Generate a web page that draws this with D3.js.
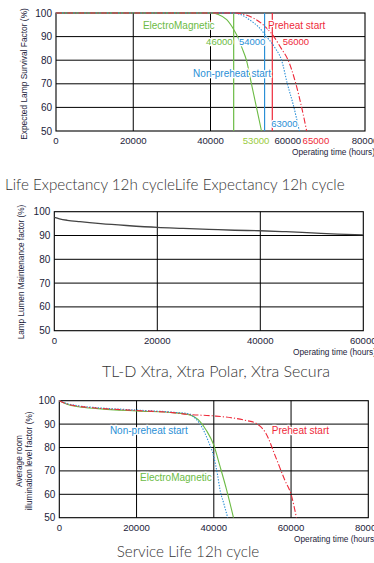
<!DOCTYPE html>
<html><head><meta charset="utf-8">
<script src="https://cdn.jsdelivr.net/npm/d3@7/dist/d3.min.js"></script>
<style>
html,body{margin:0;padding:0;background:#fff;overflow:hidden}
svg{display:block}
</style></head>
<body>
<svg id="c" width="374" height="563"></svg>
<script>
// ---------- DATA ----------
// Panel 1: Expected Lamp Survival Factor (%)
const survXTicks = [0, 20000, 40000, 60000, 80000];
const survYTicks = [50, 60, 70, 80, 90, 100];
const survGridX = [20000, 40000];
const survEM = [[0,100],[40000,100],[42000,99.4],[44200,97.2],[46300,92.2],[47000,90],[48200,85],[49300,80],[50600,70],[51900,60],[53200,50]];
const survNonPre = [[0,100],[45000,100],[47500,99.5],[50200,97],[52500,94],[54500,90],[56800,85],[58400,80],[59900,70],[61600,60],[63000,50]];
const survPre = [[0,100],[46000,100],[48500,99.5],[51500,97.5],[54000,94.5],[56400,90],[58300,85],[60100,80],[62100,70],[63600,60],[64900,50]];
const survMarkers = [46000, 54000, 56000];          // vertical marker lines
const survMarkerLabels = ["46000", "54000", "56000", "63000", "53000", "65000"];

// Panel 2: Lamp Lumen Maintenance factor (%)
const lumXTicks = [0, 20000, 40000, 60000];
const lumYTicks = [50, 60, 70, 80, 90, 100];
const lumGridX = [20000, 40000];
const lumCurve = [[0,97.6],[1000,97],[2500,96.4],[5000,95.8],[9000,95],[14000,94.2],[20000,93.4],[25000,93],[30000,92.6],[35000,92.2],[40000,92],[45000,91.6],[50000,91.1],[55000,90.6],[60000,90.3]];

// Panel 3: Average room illumination level factor (%)
const svcXTicks = [0, 20000, 40000, 60000, 80000];
const svcYTicks = [50, 60, 70, 80, 90, 100];
const svcGridX = [20000, 40000, 60000];
const svcEM = [[0,100],[2000,98.5],[5000,97.4],[10000,96.6],[20000,95.6],[30000,94.8],[33000,94.2],[35000,93],[36500,91],[38000,87.5],[40000,81],[41600,72],[43300,62],[45100,50]];
const svcNonPre = [[0,100],[2000,98.8],[5000,97.8],[10000,97],[20000,96],[30000,95],[33500,94.4],[35500,92],[37000,88.5],[38500,83],[40000,76],[41000,68],[41600,62],[42600,56],[43600,50]];
const svcPre = [[0,100],[2000,98.6],[5000,97.6],[10000,96.8],[20000,95.8],[30000,94.8],[33000,94.2],[40000,93.5],[45000,92.6],[48500,91.5],[51000,90.3],[53500,86],[56000,76],[58400,66],[60000,60],[61400,50]];

const titles = ["Life Expectancy 12h cycleLife Expectancy 12h cycle", "TL-D Xtra, Xtra Polar, Xtra Secura", "Service Life 12h cycle"];
const seriesNames = ["ElectroMagnetic", "Non-preheat start", "Preheat start"];
const xTitle = "Operating time (hours)";

// ---------- STYLE ----------
const GREEN = "#6cbb45", BLUE = "#2a8fd6", RED = "#ee2a3a", INK = "#1c1c3a";
const TICKFONT = "'Liberation Sans', Arial, sans-serif";
const TITLEFONT = "Lato, 'Open Sans', sans-serif";
const svg = d3.select("#c");

function panel(o) {
  const x = d3.scaleLinear().domain(o.xDomain).range([o.left, o.right]);
  const y = d3.scaleLinear().domain([50, 100]).range([o.bottom, o.top]);
  const g = svg.append("g");
  g.selectAll(".hg").data(o.yTicks.filter(d => d > 50 && d < 100)).join("line")
    .attr("x1", o.left).attr("x2", o.right).attr("y1", d => y(d)).attr("y2", d => y(d))
    .attr("stroke", "#000").attr("stroke-width", 1);
  g.selectAll(".vg").data(o.gridX).join("line")
    .attr("x1", d => x(d)).attr("x2", d => x(d)).attr("y1", o.top).attr("y2", o.bottom)
    .attr("stroke", "#000").attr("stroke-width", 1);
  g.append("rect").attr("x", o.left).attr("y", o.top)
    .attr("width", o.right - o.left).attr("height", o.bottom - o.top)
    .attr("fill", "none").attr("stroke", "#000").attr("stroke-width", 1.1);
  g.selectAll(".yt").data(o.yTicks).join("text")
    .attr("x", o.left - 4).attr("y", d => y(d)).attr("dy", "0.35em")
    .attr("text-anchor", "end").attr("font-family", TICKFONT).attr("font-size", 10)
    .attr("fill", INK).text(d => d);
  g.selectAll(".xt").data(o.xTicks).join("text")
    .attr("x", d => x(d)).attr("y", o.bottom + 13)
    .attr("text-anchor", "middle").attr("font-family", TICKFONT).attr("font-size", 9.6)
    .attr("fill", INK).text(d => d);
  g.append("text").attr("x", o.xTitleX).attr("y", o.bottom + 24)
    .attr("font-family", TICKFONT).attr("font-size", 8.3).attr("fill", INK).text(xTitle);
  const yt = g.append("text").attr("transform", `translate(${o.yTitleX},${o.yTitleY}) rotate(-90)`)
    .attr("text-anchor", "middle").attr("font-family", TICKFONT).attr("font-size", o.yTitleSize).attr("fill", INK);
  o.yTitle.forEach((t, i) => yt.append("tspan").attr("x", 0).attr("dy", i === 0 ? 0 : 9.5).text(t));
  return {x, y, g};
}

function curve(p, data, color, dash, w) {
  const line = d3.line().x(d => p.x(d[0])).y(d => p.y(d[1])).curve(d3.curveMonotoneX);
  p.g.append("path").datum(data).attr("d", line).attr("fill", "none")
    .attr("stroke", color).attr("stroke-width", w || 1.1)
    .attr("stroke-dasharray", dash || null);
}
function label(p, xv, yv, txt, color, anchor, size) {
  p.g.append("text").attr("x", p.x(xv)).attr("y", p.y(yv)).attr("dy", "0.35em")
    .attr("text-anchor", anchor || "start").attr("font-family", TICKFONT)
    .attr("font-size", size || 10).attr("fill", color)
    .attr("stroke", "#fff").attr("stroke-width", 2.5).attr("stroke-linejoin", "round")
    .attr("paint-order", "stroke").text(txt);
}

// ---------- PANEL 1 ----------
const p1 = panel({xDomain: [0, 80000], left: 56, right: 365, top: 13, bottom: 131,
  xTicks: survXTicks, yTicks: survYTicks, gridX: survGridX,
  xTitleX: 292, yTitleX: 27, yTitleY: 74, yTitleSize: 8.4, yTitle: ["Expected Lamp Survival Factor (%)"]});
const markerColors = [GREEN, BLUE, RED];
survMarkers.forEach((m, i) => {
  p1.g.append("line").attr("x1", p1.x(m)).attr("x2", p1.x(m)).attr("y1", p1.y(100)).attr("y2", p1.y(50))
    .attr("stroke", markerColors[i]).attr("stroke-width", 1.2);
});
curve(p1, survEM, GREEN, null, 1.1);
curve(p1, survNonPre, BLUE, "1.4,1.4", 1.1);
curve(p1, survPre, RED, "6,2,1.2,2", 1.1);
label(p1, 22500, 94.5, seriesNames[0], GREEN);
label(p1, 54900, 94.5, seriesNames[2], RED);
label(p1, 35500, 74.2, seriesNames[1], BLUE);
label(p1, 45700, 87.8, survMarkerLabels[0], GREEN, "end", 9.5);
label(p1, 54200, 87.8, survMarkerLabels[1], BLUE, "end", 9.5);
label(p1, 58700, 87.8, survMarkerLabels[2], RED, "start", 9.5);
label(p1, 55700, 53, survMarkerLabels[3], BLUE, "start", 9.5);
p1.g.append("text").attr("x", p1.x(51800)).attr("y", 131 + 13).attr("text-anchor", "middle")
  .attr("font-family", TICKFONT).attr("font-size", 9.6).attr("fill", "#9acb3c").text(survMarkerLabels[4]);
p1.g.append("text").attr("x", p1.x(67300)).attr("y", 131 + 13).attr("text-anchor", "middle")
  .attr("font-family", TICKFONT).attr("font-size", 9.6).attr("fill", RED).text(survMarkerLabels[5]);

// ---------- TITLE 1 ----------
svg.append("text").attr("x", 5).attr("y", 190).attr("font-family", TITLEFONT).attr("font-weight", 300)
  .attr("font-size", 15.2).attr("fill", "#333").text(titles[0]);

// ---------- PANEL 2 ----------
const p2 = panel({xDomain: [0, 60000], left: 54.3, right: 363.3, top: 211.7, bottom: 330.7,
  xTicks: lumXTicks, yTicks: lumYTicks, gridX: lumGridX,
  xTitleX: 293, yTitleX: 24, yTitleY: 272, yTitleSize: 8.2, yTitle: ["Lamp Lumen Maintenance factor (%)"]});
curve(p2, lumCurve, "#444", null, 1.3);

// ---------- TITLE 2 ----------
svg.append("text").attr("x", 216).attr("y", 377).attr("text-anchor", "middle").attr("font-weight", 300)
  .attr("font-family", TITLEFONT).attr("font-size", 16).attr("fill", "#333").text(titles[1]);

// ---------- PANEL 3 ----------
const p3 = panel({xDomain: [0, 80000], left: 59.3, right: 368.3, top: 400.7, bottom: 517.7,
  xTicks: svcXTicks, yTicks: svcYTicks, gridX: svcGridX,
  xTitleX: 294, yTitleX: 22, yTitleY: 461, yTitleSize: 8.3, yTitle: ["Average room", "illumination level factor (%)"]});
curve(p3, svcEM, GREEN, null, 1.1);
curve(p3, svcNonPre, BLUE, "1.4,1.4", 1.1);
curve(p3, svcPre, RED, "6,2,1.2,2", 1.1);
label(p3, 13100, 87.2, seriesNames[1], BLUE);
label(p3, 55000, 87.2, seriesNames[2], RED);
label(p3, 20900, 67.1, seriesNames[0], GREEN);

// ---------- TITLE 3 ----------
svg.append("text").attr("x", 188).attr("y", 557).attr("text-anchor", "middle").attr("font-weight", 300)
  .attr("font-family", TITLEFONT).attr("font-size", 15.2).attr("fill", "#333").text(titles[2]);
</script>
</body></html>
